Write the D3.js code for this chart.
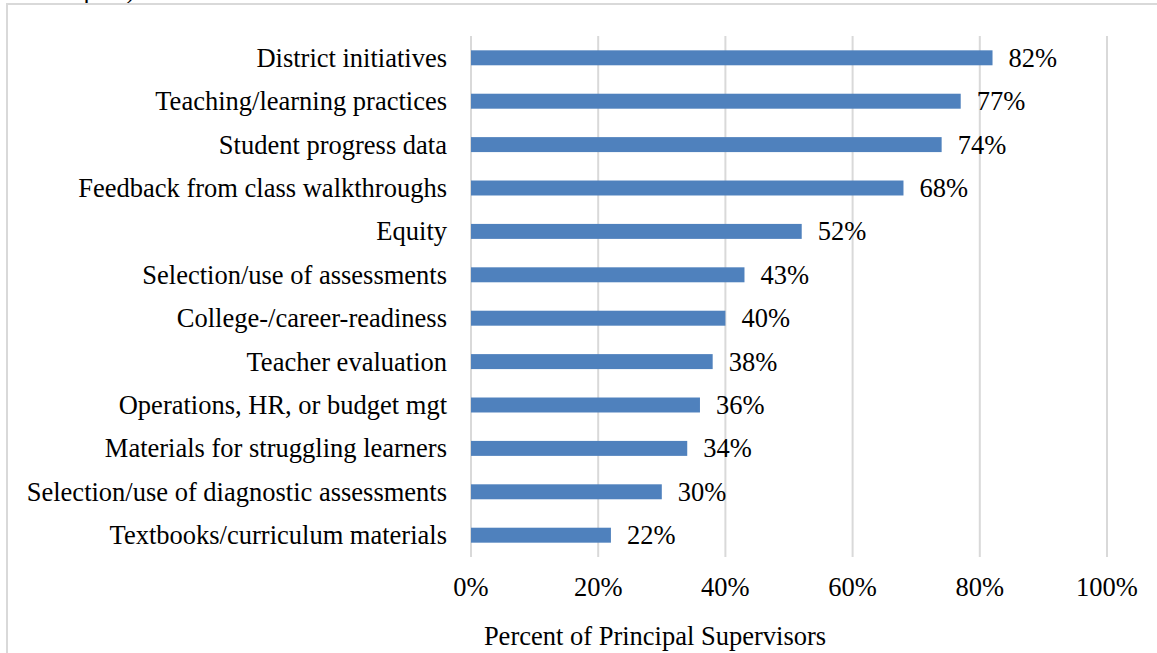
<!DOCTYPE html>
<html>
<head>
<meta charset="utf-8">
<script src="https://cdn.jsdelivr.net/npm/d3@7"></script>
<style>
  html, body { margin: 0; padding: 0; background: #fff; }
  svg { display: block; font-family: "Liberation Serif", "Times New Roman", serif; }
</style>
</head>
<body>
<svg id="chart" width="1157" height="653"></svg>
<script>
// Topics covered with principal supervisors (share of respondents)
const categories = [
  "District initiatives",
  "Teaching/learning practices",
  "Student progress data",
  "Feedback from class walkthroughs",
  "Equity",
  "Selection/use of assessments",
  "College-/career-readiness",
  "Teacher evaluation",
  "Operations, HR, or budget mgt",
  "Materials for struggling learners",
  "Selection/use of diagnostic assessments",
  "Textbooks/curriculum materials"
];
const values = [82, 77, 74, 68, 52, 43, 40, 38, 36, 34, 30, 22];
const xTicks = [0, 20, 40, 60, 80, 100];
const xTitle = "Percent of Principal Supervisors";

const svg = d3.select("#chart");
const W = 1157, H = 653;
const plot = { left: 471, right: 1107, top: 36, bottom: 557 };
const FS = 26.5;

// Chart frame (extends beyond the visible page on the right and bottom)
svg.append("text")
  .attr("x", 63).attr("y", -2.5)
  .attr("font-size", FS).attr("fill", "#000")
  .text("topics)");
svg.append("rect")
  .attr("x", 7).attr("y", 4)
  .attr("width", W + 20).attr("height", H + 20)
  .attr("fill", "#fff")
  .attr("stroke", "#d9d9d9").attr("stroke-width", 2);

const x = d3.scaleLinear().domain([0, 100]).range([plot.left, plot.right]);
const y = d3.scaleBand().domain(categories).range([plot.top, plot.bottom]).paddingInner(0.655).paddingOuter(0.33);

// Vertical gridlines
svg.append("g").selectAll("line").data(xTicks).join("line")
  .attr("x1", d => x(d)).attr("x2", d => x(d))
  .attr("y1", plot.top).attr("y2", plot.bottom)
  .attr("stroke", "#d9d9d9").attr("stroke-width", 2);

// Bars
svg.append("g").selectAll("rect").data(values).join("rect")
  .attr("x", x(0))
  .attr("y", (d, i) => y(categories[i]))
  .attr("width", d => x(d) - x(0))
  .attr("height", y.bandwidth())
  .attr("fill", "#4f81bd");

// Value labels
svg.append("g").selectAll("text").data(values).join("text")
  .attr("x", d => x(d) + 16)
  .attr("y", (d, i) => y(categories[i]) + y.bandwidth() / 2 + 9)
  .attr("font-size", FS).attr("fill", "#000")
  .text(d => d + "%");

// Category labels
svg.append("g").selectAll("text").data(categories).join("text")
  .attr("x", 447)
  .attr("y", d => y(d) + y.bandwidth() / 2 + 9)
  .attr("text-anchor", "end")
  .attr("font-size", FS).attr("fill", "#000")
  .text(d => d);

// X tick labels
svg.append("g").selectAll("text").data(xTicks).join("text")
  .attr("x", d => x(d))
  .attr("y", 596)
  .attr("text-anchor", "middle")
  .attr("font-size", FS).attr("fill", "#000")
  .text(d => d + "%");

// Axis title
svg.append("text")
  .attr("x", 655).attr("y", 645)
  .attr("text-anchor", "middle")
  .attr("font-size", FS).attr("fill", "#000")
  .text(xTitle);
</script>
</body>
</html>
